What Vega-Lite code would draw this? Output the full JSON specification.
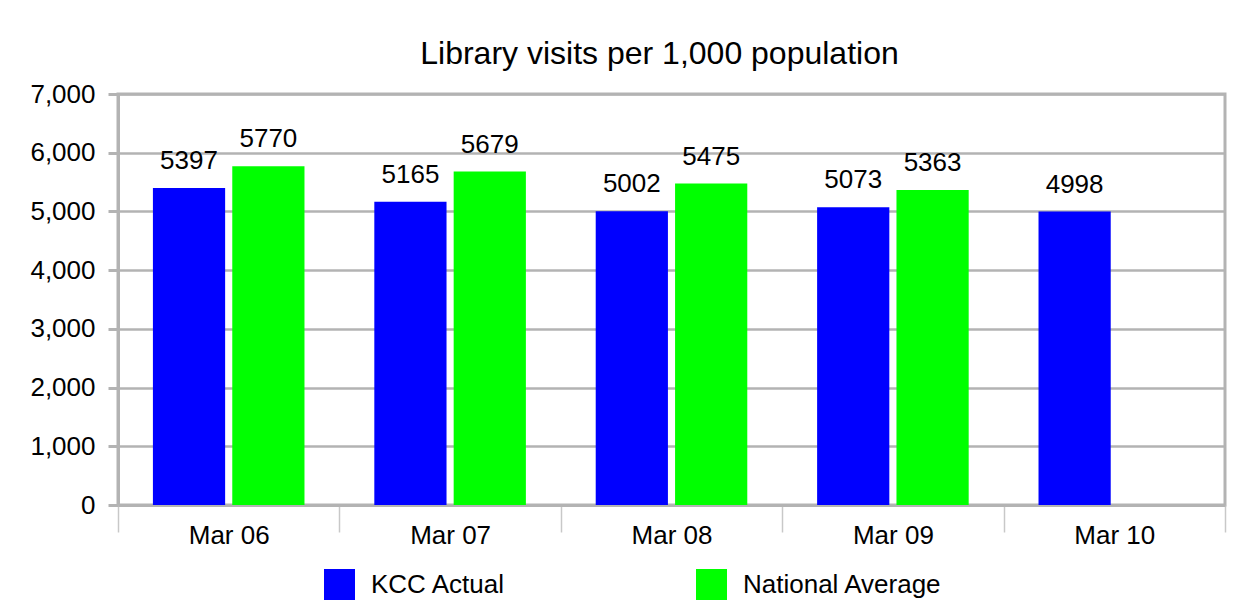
{
  "$schema": "https://vega.github.io/schema/vega-lite/v6.json",
  "width": 1107,
  "height": 411,
  "autosize": {"type": "none"},
  "padding": {"left": 118, "top": 94, "right": 26, "bottom": 109},
  "background": "white",
  "config": {
    "font": "Liberation Sans",
    "view": {"stroke": "#b3b3b3", "strokeWidth": 3}
  },
  "title": {
    "text": "Library visits per 1,000 population",
    "fontSize": 32,
    "fontWeight": "normal",
    "color": "black",
    "anchor": "middle",
    "frame": "group",
    "baseline": "alphabetic",
    "dx": -12,
    "offset": -15
  },
  "data": {
    "values": [
      {"period": "Mar 06", "series": "KCC Actual", "value": 5397},
      {"period": "Mar 06", "series": "National Average", "value": 5770},
      {"period": "Mar 07", "series": "KCC Actual", "value": 5165},
      {"period": "Mar 07", "series": "National Average", "value": 5679},
      {"period": "Mar 08", "series": "KCC Actual", "value": 5002},
      {"period": "Mar 08", "series": "National Average", "value": 5475},
      {"period": "Mar 09", "series": "KCC Actual", "value": 5073},
      {"period": "Mar 09", "series": "National Average", "value": 5363},
      {"period": "Mar 10", "series": "KCC Actual", "value": 4998}
    ]
  },
  "encoding": {
    "x": {
      "field": "period",
      "type": "nominal",
      "sort": null,
      "scale": {"paddingInner": 0, "paddingOuter": 0},
      "axis": {
        "title": null,
        "labelAngle": 0,
        "tickBand": "extent",
        "tickSize": 27,
        "tickColor": "#c8c8c8",
        "tickWidth": 1.5,
        "domainColor": "#b3b3b3",
        "domainWidth": 3,
        "labelPadding": -10,
        "labelFontSize": 26,
        "labelColor": "black",
        "grid": false
      }
    },
    "xOffset": {
      "field": "series",
      "type": "nominal",
      "sort": ["KCC Actual", "National Average"],
      "scale": {"paddingInner": 0.09, "paddingOuter": 0.44}
    },
    "y": {
      "field": "value",
      "type": "quantitative",
      "scale": {"domain": [0, 7000], "nice": false},
      "axis": {
        "title": null,
        "values": [0, 1000, 2000, 3000, 4000, 5000, 6000, 7000],
        "format": ",d",
        "domainColor": "#b3b3b3",
        "domainWidth": 3,
        "tickColor": "#b3b3b3",
        "tickWidth": 3,
        "tickSize": 10,
        "gridColor": "#b3b3b3",
        "gridWidth": 2.5,
        "labelFontSize": 26,
        "labelColor": "black",
        "labelPadding": 13
      }
    }
  },
  "layer": [
    {
      "mark": {"type": "bar"},
      "encoding": {
        "color": {
          "field": "series",
          "type": "nominal",
          "scale": {"domain": ["KCC Actual", "National Average"], "range": ["#0000ff", "#00ff00"]},
          "legend": {
            "orient": "none",
            "legendX": 206,
            "legendY": 475,
            "direction": "horizontal",
            "title": null,
            "symbolType": "square",
            "symbolSize": 961,
            "symbolStrokeWidth": 0,
            "symbolOpacity": 1,
            "labelFontSize": 26,
            "labelOffset": 16,
            "labelColor": "black",
            "labelLimit": 400,
            "columnPadding": 190,
            "padding": 0
          }
        }
      }
    },
    {
      "mark": {"type": "text", "dy": -19, "baseline": "alphabetic", "fontSize": 26, "color": "black"},
      "encoding": {"text": {"field": "value", "type": "quantitative", "format": "d"}}
    }
  ]
}
